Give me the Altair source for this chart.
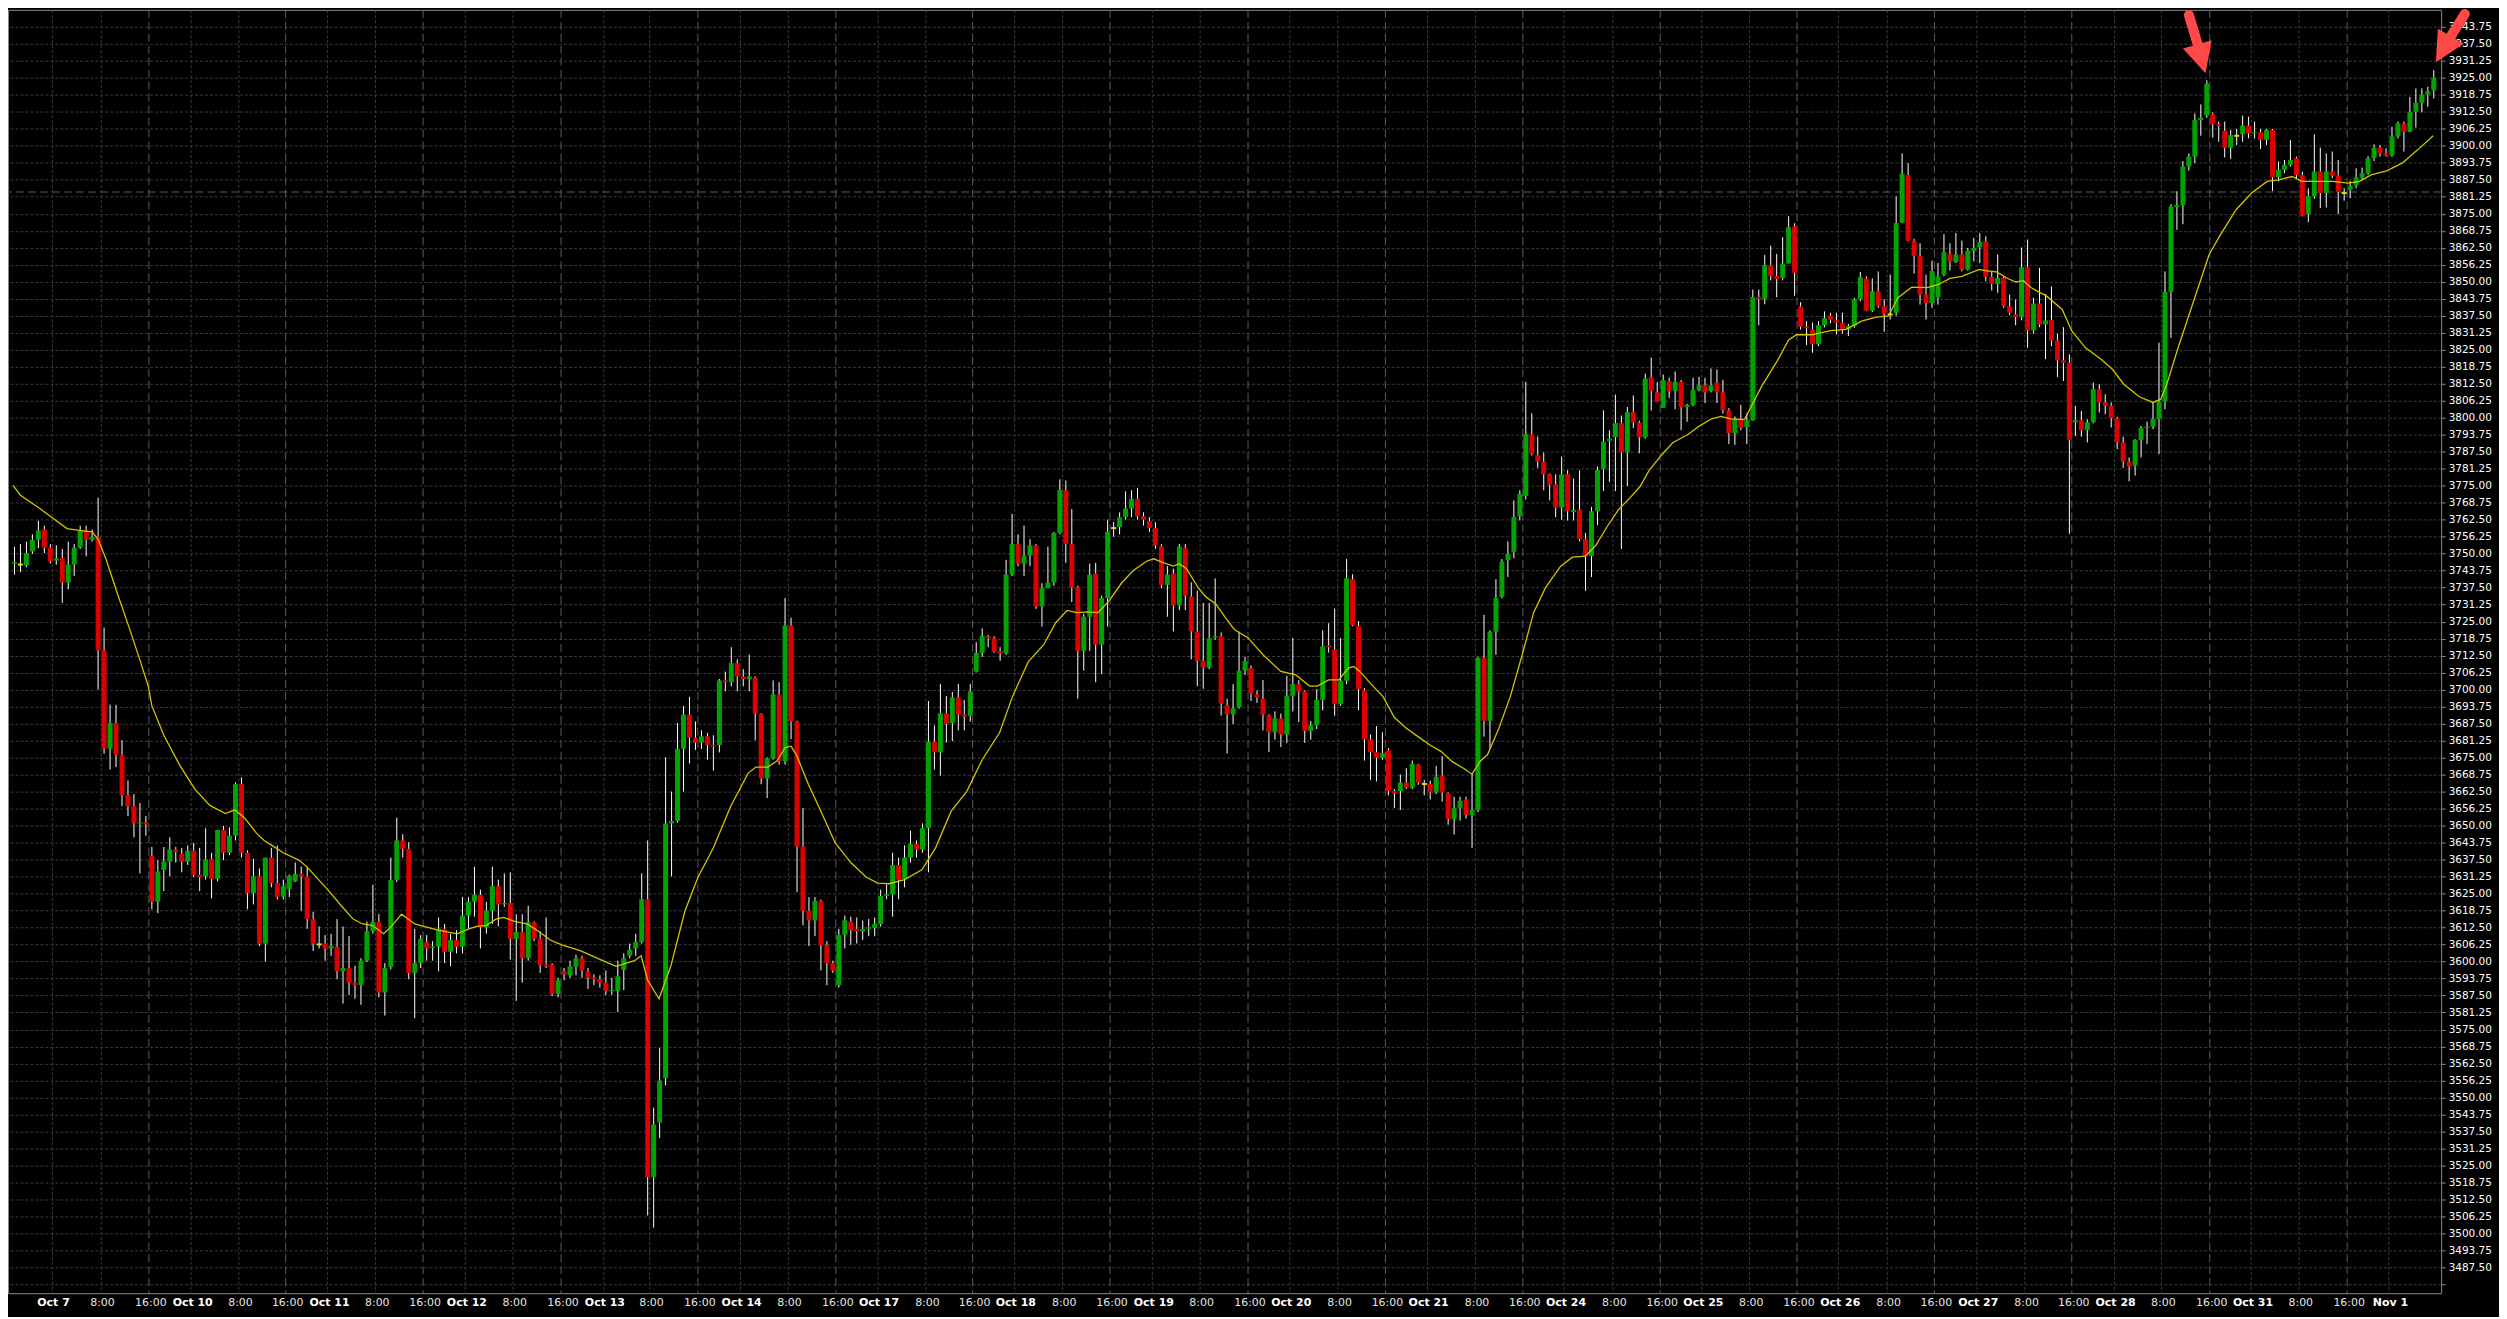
import altair as alt
import pandas as pd
import numpy as np

# ---------------- hourly candles (index 0 = first visible bar) ----------------
open_ = [
3746.3,3746.0,3745.7,3750.8,3755.1,3758.9,3752.2,3747.5,3748.4,3739.4,
3746.0,3752.2,3758.5,3755.1,3756.2,3714.4,3678.3,3687.7,3676.0,3661.1,
3657.1,3650.8,3651.2,3638.9,3622.0,3633.7,3636.7,3641.2,3639.6,3636.7,
3640.7,3631.9,3631.3,3637.6,3630.4,3648.4,3640.0,3646.3,3665.2,3640.0,
3625.2,3631.3,3606.6,3638.2,3628.8,3623.8,3626.6,3629.5,3632.2,3631.3,
3615.6,3606.3,3606.6,3604.8,3605.4,3596.4,3597.6,3592.2,3591.3,3600.3,
3611.1,3614.7,3588.6,3598.0,3630.0,3644.5,3641.4,3595.8,3599.4,3607.1,
3605.0,3605.4,3612.0,3603.6,3607.9,3605.4,3616.9,3622.0,3624.5,3612.6,
3618.7,3627.7,3621.0,3621.5,3608.4,3610.8,3601.2,3614.4,3608.4,3598.9,
3598.9,3588.1,3596.4,3594.9,3598.2,3601.2,3596.4,3594.0,3593.5,3592.2,
3589.1,3589.2,3596.9,3602.1,3604.8,3607.2,3622.9,3520.7,3540.8,3557.1,
3650.8,3651.7,3678.2,3690.8,3682.3,3680.5,3682.8,3679.6,3679.6,3703.4,
3702.7,3709.7,3704.8,3703.9,3704.3,3691.0,3667.3,3674.7,3698.2,3673.7,
3723.6,3688.3,3642.3,3618.7,3615.1,3622.3,3606.1,3599.4,3591.3,3609.7,
3614.7,3612.0,3611.1,3612.0,3612.3,3613.8,3624.1,3624.7,3635.5,3630.4,
3638.2,3643.2,3641.2,3649.0,3680.9,3676.9,3691.3,3687.7,3697.1,3690.8,
3690.4,3706.6,3713.5,3719.6,3718.9,3714.2,3713.3,3742.3,3753.5,3746.3,
3749.3,3753.0,3730.6,3737.3,3739.4,3757.6,3773.3,3753.5,3737.6,3714.2,
3726.8,3742.7,3716.5,3733.7,3759.4,3759.8,3763.4,3766.6,3770.1,3763.7,
3762.0,3759.4,3752.6,3738.5,3742.7,3731.0,3752.2,3734.2,3721.4,3710.6,
3708.1,3719.1,3719.6,3694.3,3690.9,3693.5,3707.0,3707.9,3698.2,3696.6,
3690.5,3684.3,3689.4,3683.5,3697.7,3702.0,3699.3,3684.8,3686.9,3696.2,
3716.2,3714.7,3694.6,3703.3,3740.6,3723.3,3699.7,3681.7,3677.0,3675.0,
3677.7,3662.7,3662.7,3665.8,3663.9,3672.4,3665.3,3665.3,3662.2,3668.4,
3661.9,3652.4,3656.5,3659.6,3653.9,3655.7,3711.6,3688.5,3721.3,3734.1,
3747.6,3750.7,3763.8,3771.2,3793.9,3786.2,3783.8,3779.2,3775.4,3766.9,
3779.2,3765.3,3766.1,3755.3,3749.1,3765.6,3781.1,3791.5,3792.8,3798.0,
3787.2,3802.0,3798.2,3792.8,3815.0,3809.3,3803.6,3813.5,3809.8,3813.2,
3803.9,3804.7,3810.1,3811.9,3809.8,3812.9,3809.3,3802.7,3794.3,3799.6,
3796.5,3799.0,3844.4,3843.7,3856.1,3852.1,3851.4,3856.7,3870.3,3840.9,
3833.5,3832.5,3827.0,3834.0,3837.5,3835.8,3834.9,3832.5,3833.7,3843.5,
3851.2,3839.4,3846.5,3841.0,3838.0,3838.6,3871.8,3889.3,3865.1,3859.4,
3845.3,3842.2,3844.3,3852.6,3860.3,3857.3,3860.0,3854.5,3861.4,3862.7,
3864.9,3851.8,3849.2,3851.4,3841.0,3838.0,3837.0,3855.3,3832.1,3842.0,
3834.3,3835.8,3828.4,3821.1,3820.2,3798.3,3799.1,3795.4,3798.3,3810.5,
3805.6,3804.4,3799.8,3790.9,3783.9,3782.4,3791.8,3796.2,3796.7,3799.5,
3805.9,3846.3,3877.5,3878.1,3892.4,3896.0,3909.5,3911.1,3911.6,3907.9,
3905.5,3899.3,3903.7,3904.2,3907.4,3904.6,3905.0,3902.2,3905.8,3888.3,
3891.2,3893.0,3895.4,3889.3,3874.9,3881.4,3890.5,3882.6,3890.5,3889.1,
3882.6,3883.8,3885.4,3888.3,3889.9,3895.4,3899.3,3897.2,3896.4,3903.4,
3908.2,3905.2,3912.5,3915.8,3918.9,3920.3]

high = [
3752.6,3753.5,3754.4,3757.1,3762.1,3760.3,3753.5,3753.1,3751.7,3754.4,
3753.5,3760.3,3760.3,3758.9,3770.6,3722.8,3694.4,3694.4,3681.4,3666.6,
3661.6,3658.3,3653.5,3642.1,3637.3,3642.1,3645.7,3642.1,3641.8,3642.7,
3643.6,3641.8,3649.0,3640.0,3648.4,3649.9,3649.3,3665.9,3667.7,3640.9,
3637.8,3634.2,3638.2,3641.8,3642.7,3630.1,3632.0,3636.4,3634.9,3634.9,
3618.3,3612.9,3609.7,3610.2,3615.6,3612.9,3609.3,3598.5,3601.2,3614.7,
3628.3,3617.4,3599.4,3638.2,3652.9,3646.8,3643.9,3612.0,3609.7,3609.7,
3607.5,3616.2,3613.8,3610.2,3611.5,3623.7,3623.7,3634.9,3626.4,3621.9,
3634.9,3630.1,3632.4,3632.8,3617.4,3617.4,3620.5,3614.7,3611.1,3616.2,
3599.4,3594.0,3597.6,3600.3,3602.5,3602.1,3597.6,3595.3,3594.9,3596.7,
3594.0,3600.3,3603.0,3606.6,3610.2,3632.4,3644.5,3546.3,3568.2,3675.1,
3662.5,3687.7,3694.0,3697.3,3688.3,3685.0,3684.1,3683.2,3703.9,3706.6,
3715.6,3711.1,3707.5,3712.9,3704.8,3691.3,3675.1,3703.4,3702.7,3733.7,
3726.4,3688.6,3656.5,3623.7,3623.7,3622.8,3607.5,3600.3,3612.0,3616.9,
3616.5,3616.2,3615.1,3615.6,3616.2,3626.4,3628.3,3640.0,3638.2,3642.7,
3648.1,3644.5,3650.8,3695.8,3686.8,3702.1,3697.6,3699.1,3702.1,3696.2,
3702.1,3717.4,3722.5,3720.1,3719.6,3715.6,3747.7,3764.6,3757.1,3760.3,
3755.3,3753.5,3739.1,3752.6,3758.0,3777.3,3776.9,3766.4,3738.2,3727.9,
3746.3,3746.6,3734.6,3762.5,3761.6,3765.2,3772.9,3773.3,3774.2,3765.2,
3763.4,3761.6,3753.5,3745.4,3744.5,3753.5,3753.5,3739.4,3736.4,3731.9,
3731.9,3740.9,3721.0,3696.6,3702.0,3721.3,3712.0,3708.9,3699.7,3703.5,
3690.9,3692.0,3691.2,3705.1,3719.0,3703.5,3699.7,3688.4,3700.2,3721.8,
3724.4,3729.8,3719.0,3748.0,3742.4,3725.2,3700.5,3683.5,3686.6,3684.3,
3678.5,3663.4,3668.8,3671.1,3673.9,3672.7,3666.8,3666.5,3671.9,3675.5,
3662.2,3660.6,3660.6,3660.6,3669.3,3712.0,3727.5,3721.8,3740.6,3748.0,
3754.5,3769.6,3773.3,3813.2,3801.6,3793.1,3787.2,3779.5,3779.2,3785.7,
3780.7,3777.6,3780.7,3757.6,3767.2,3782.0,3802.7,3795.4,3808.5,3800.8,
3803.9,3808.2,3798.9,3816.2,3822.1,3813.1,3815.9,3814.7,3817.0,3813.9,
3805.1,3814.7,3815.0,3814.7,3818.1,3817.8,3813.9,3803.5,3800.5,3804.7,
3801.6,3847.1,3847.1,3859.8,3863.3,3860.2,3866.4,3874.1,3871.5,3842.5,
3835.5,3835.0,3835.5,3839.1,3838.6,3838.6,3838.6,3834.5,3844.1,3853.6,
3852.0,3851.2,3853.8,3843.5,3852.6,3881.4,3897.2,3893.6,3865.8,3864.2,
3852.6,3857.8,3856.9,3867.5,3864.2,3867.9,3865.1,3862.4,3866.1,3867.9,
3866.7,3853.8,3860.0,3852.0,3845.3,3843.5,3862.6,3865.5,3844.1,3855.1,
3845.5,3848.3,3830.9,3833.3,3823.3,3804.3,3802.5,3799.4,3812.9,3812.3,
3808.6,3805.6,3800.3,3793.0,3785.4,3792.1,3797.0,3798.6,3805.6,3827.6,
3853.8,3878.5,3883.2,3894.4,3897.2,3911.9,3915.2,3924.1,3912.3,3908.9,
3908.9,3905.8,3906.2,3911.1,3910.7,3908.9,3906.2,3906.2,3906.2,3894.2,
3894.8,3902.1,3896.0,3890.5,3884.4,3904.2,3899.3,3897.2,3897.9,3894.8,
3884.4,3887.1,3891.7,3892.0,3896.2,3900.5,3900.3,3899.1,3907.0,3908.9,
3908.9,3918.0,3921.1,3921.1,3921.7,3927.8]

low = [
3742.3,3743.2,3745.0,3749.9,3752.0,3750.2,3746.3,3745.9,3731.9,3736.9,
3741.8,3751.7,3749.0,3754.4,3700.0,3676.4,3670.6,3671.5,3657.1,3653.5,
3645.7,3632.4,3646.3,3619.2,3617.8,3625.9,3631.3,3636.4,3632.8,3635.5,
3631.0,3625.9,3630.1,3623.2,3629.5,3637.3,3639.1,3644.5,3638.2,3619.2,
3621.0,3605.7,3600.0,3627.3,3622.8,3622.8,3623.7,3629.2,3618.7,3612.0,
3603.9,3604.8,3600.3,3602.1,3593.5,3584.5,3587.7,3586.3,3584.1,3599.8,
3610.2,3586.8,3580.1,3597.1,3629.2,3638.2,3593.5,3579.1,3597.6,3600.3,
3600.3,3596.4,3599.4,3598.2,3603.0,3603.0,3612.0,3616.5,3604.8,3610.2,
3613.8,3612.9,3620.1,3600.7,3585.5,3592.2,3600.3,3607.5,3595.8,3597.6,
3587.3,3586.8,3593.1,3594.0,3594.9,3594.0,3589.9,3591.3,3590.4,3587.7,
3587.7,3581.4,3589.5,3601.2,3602.1,3606.6,3506.6,3502.1,3535.1,3554.4,
3631.3,3651.1,3662.5,3672.8,3677.8,3678.2,3674.2,3670.2,3676.9,3699.4,
3701.2,3699.4,3701.2,3699.4,3681.4,3665.2,3660.1,3674.2,3672.4,3672.4,
3681.8,3625.5,3613.3,3605.7,3609.3,3596.7,3591.3,3595.8,3590.4,3604.8,
3606.1,3606.6,3607.9,3609.3,3609.3,3612.9,3622.9,3616.5,3622.9,3627.3,
3636.4,3638.2,3640.0,3632.8,3670.6,3668.4,3680.5,3681.0,3685.0,3685.0,
3688.2,3706.3,3712.0,3715.6,3713.5,3710.6,3712.8,3741.8,3745.4,3741.8,
3745.4,3729.7,3723.2,3737.3,3738.2,3757.1,3746.6,3732.2,3696.7,3707.0,
3714.2,3702.7,3705.7,3723.2,3756.2,3757.1,3762.5,3763.4,3762.5,3760.3,
3758.0,3751.7,3737.3,3726.8,3721.4,3729.2,3729.2,3711.1,3701.2,3700.3,
3707.5,3718.3,3690.4,3676.5,3687.3,3693.0,3705.4,3695.8,3695.1,3685.0,
3677.0,3681.6,3678.9,3680.4,3692.0,3688.1,3680.4,3681.6,3685.5,3692.4,
3713.6,3690.4,3694.0,3702.0,3723.3,3692.4,3673.9,3666.8,3666.2,3674.2,
3661.1,3656.5,3655.7,3663.4,3663.4,3665.0,3661.1,3659.6,3661.6,3658.8,
3650.3,3646.7,3651.8,3652.6,3641.8,3654.9,3682.7,3678.1,3712.8,3733.6,
3741.4,3748.3,3762.2,3769.9,3786.1,3781.5,3773.3,3769.6,3763.4,3762.5,
3762.2,3762.2,3754.5,3736.3,3741.4,3760.4,3773.0,3776.4,3773.0,3751.7,
3774.9,3796.2,3786.9,3792.3,3802.6,3805.7,3803.6,3807.3,3803.1,3795.4,
3798.5,3804.2,3809.7,3805.4,3809.3,3805.4,3801.5,3790.3,3790.0,3795.4,
3790.3,3798.9,3834.0,3841.7,3850.5,3844.3,3850.5,3856.7,3844.8,3832.4,
3826.7,3823.9,3826.3,3833.2,3834.7,3830.6,3830.9,3830.0,3833.1,3842.8,
3839.2,3838.9,3840.4,3831.6,3836.1,3837.5,3871.6,3864.9,3853.0,3841.6,
3836.1,3840.4,3841.6,3852.0,3854.1,3856.9,3853.8,3854.1,3857.5,3856.9,
3850.2,3846.8,3845.9,3840.4,3837.7,3834.0,3835.8,3825.7,3830.9,3833.3,
3821.5,3826.3,3815.0,3813.5,3757.3,3793.3,3793.0,3790.9,3797.9,3801.9,
3801.3,3796.4,3788.4,3781.5,3776.6,3778.7,3785.4,3790.3,3795.8,3786.6,
3803.1,3829.4,3869.1,3871.2,3890.8,3893.6,3903.7,3910.3,3903.0,3901.5,
3895.7,3895.2,3900.3,3901.5,3902.7,3902.7,3898.8,3900.3,3883.4,3886.9,
3889.9,3892.4,3888.1,3874.0,3871.9,3880.5,3877.1,3877.3,3888.1,3874.9,
3879.8,3880.7,3884.4,3887.5,3889.3,3894.4,3896.0,3896.0,3896.0,3902.7,
3897.9,3905.0,3906.7,3912.3,3914.4,3917.4]

close = [
3746.8,3746.0,3750.2,3755.1,3758.5,3752.2,3747.2,3748.3,3739.4,3746.0,
3752.2,3758.5,3755.1,3756.2,3714.4,3678.3,3687.7,3676.0,3661.1,3657.1,
3650.8,3651.2,3650.4,3622.0,3633.1,3636.7,3641.2,3640.3,3636.7,3640.7,
3631.9,3631.0,3637.6,3630.4,3648.4,3640.0,3646.3,3665.2,3640.0,3625.2,
3631.3,3606.6,3638.2,3628.8,3623.8,3627.7,3631.5,3632.2,3631.3,3615.6,
3606.6,3606.3,3604.8,3605.7,3596.4,3597.6,3592.2,3591.3,3600.3,3611.1,
3614.7,3588.6,3597.6,3630.0,3644.5,3641.4,3595.8,3599.4,3608.4,3604.8,
3605.5,3612.0,3603.6,3607.9,3605.4,3616.9,3622.0,3624.6,3612.6,3618.7,
3627.7,3621.0,3621.5,3608.4,3610.8,3601.2,3614.4,3608.4,3598.5,3598.2,
3588.1,3593.1,3595.3,3598.2,3601.2,3596.7,3594.0,3593.5,3592.2,3589.2,
3589.6,3594.6,3601.2,3604.3,3607.2,3622.9,3520.7,3540.0,3556.2,3650.8,
3651.7,3678.2,3690.8,3682.3,3680.5,3682.8,3679.6,3679.1,3703.4,3702.7,
3709.7,3704.8,3703.9,3704.8,3691.3,3667.3,3674.7,3698.2,3673.7,3723.6,
3688.3,3642.3,3618.7,3615.1,3622.3,3606.1,3599.4,3596.7,3609.7,3615.1,
3611.5,3611.1,3612.0,3612.6,3613.8,3624.1,3624.7,3635.5,3630.1,3638.2,
3643.2,3641.2,3649.0,3680.9,3676.9,3691.3,3687.4,3697.1,3690.8,3690.1,
3699.4,3713.5,3719.8,3718.9,3713.8,3713.3,3742.3,3753.5,3746.3,3749.3,
3753.0,3730.6,3737.3,3739.4,3757.6,3773.3,3753.5,3737.6,3714.2,3726.8,
3742.3,3716.5,3733.7,3758.0,3759.4,3763.4,3766.6,3770.1,3763.7,3762.5,
3759.4,3753.0,3738.5,3742.3,3731.0,3752.6,3734.6,3721.4,3710.6,3708.1,
3718.9,3719.6,3694.9,3690.9,3693.1,3707.0,3710.5,3698.6,3697.1,3690.9,
3684.3,3689.4,3683.5,3697.7,3702.0,3699.3,3684.8,3686.9,3696.2,3715.9,
3715.6,3694.6,3703.3,3740.9,3723.6,3700.2,3681.7,3677.0,3675.0,3676.6,
3662.7,3661.9,3665.8,3663.9,3672.7,3665.8,3665.3,3662.2,3667.8,3662.2,
3652.4,3656.5,3659.1,3653.9,3655.7,3711.6,3688.5,3721.3,3733.7,3747.1,
3749.9,3763.5,3772.0,3793.9,3786.6,3783.8,3779.2,3775.4,3766.9,3779.2,
3765.6,3766.1,3755.3,3749.1,3765.6,3780.8,3791.2,3792.3,3798.0,3787.2,
3802.0,3798.2,3792.8,3814.4,3809.8,3805.8,3813.9,3809.8,3813.2,3803.9,
3804.7,3810.1,3811.9,3809.3,3811.9,3809.3,3802.8,3794.3,3799.6,3796.2,
3799.0,3844.4,3843.7,3856.1,3852.1,3851.0,3856.7,3870.0,3853.3,3833.5,
3832.9,3827.0,3834.0,3836.6,3836.0,3834.9,3832.5,3833.7,3843.5,3851.7,
3839.4,3846.5,3841.0,3838.2,3838.0,3871.6,3889.7,3865.1,3859.4,3845.3,
3842.2,3853.9,3852.0,3860.8,3857.3,3860.0,3854.5,3861.4,3862.4,3864.6,
3851.8,3849.2,3851.4,3841.0,3838.6,3837.0,3855.3,3832.1,3842.0,3834.3,
3835.8,3828.4,3821.1,3820.2,3791.8,3799.1,3795.4,3798.3,3810.5,3805.6,
3804.4,3799.8,3790.9,3783.9,3782.0,3791.8,3796.2,3796.7,3799.5,3805.9,
3846.3,3877.7,3878.1,3892.4,3896.0,3909.5,3910.3,3922.8,3907.9,3907.4,
3899.3,3904.0,3903.7,3907.4,3904.6,3905.0,3902.2,3905.8,3888.3,3891.2,
3893.0,3894.8,3889.3,3874.4,3881.4,3890.5,3882.6,3890.5,3889.1,3883.0,
3882.6,3885.4,3888.3,3889.9,3895.4,3899.3,3897.2,3896.4,3903.4,3908.2,
3905.2,3912.5,3915.8,3918.9,3920.1,3925.0]

# ---------------- moving-average line ----------------
ma_idx = [-0.25,1.0,4.0,6.2,8.8,11.1,13.0,14.0,15.3,17.2,19.2,21.1,22.4,23.0,25.0,27.6,30.2,32.7,35.3,36.9,
          38.6,40.5,41.8,43.1,45.0,47.6,48.9,50.9,52.8,54.7,56.7,58.3,59.9,61.8,63.1,64.8,67.0,69.0,70.9,74.1,
          76.1,77.4,79.0,80.6,81.9,83.8,85.8,87.7,89.7,91.6,94.8,98.1,100.7,103.8,104.9,106.0,107.9,109.9,112.2,114.4,
          117.0,119.9,122.8,124.1,126.1,127.7,129.0,130.0,130.9,132.9,134.8,137.4,140.0,142.6,144.5,146.4,149.0,151.9,154.2,156.8,
          159.4,162.0,164.9,167.1,169.7,172.3,174.3,176.2,177.8,179.7,181.4,183.3,185.3,187.2,189.5,190.7,192.4,194.0,195.0,196.2,
          198.2,199.5,201.1,202.6,204.2,206.5,209.0,212.0,214.5,216.8,218.1,220.0,221.7,223.3,224.2,225.2,227.1,229.1,231.0,233.0,
          234.9,236.9,238.8,240.7,242.7,244.0,245.3,246.6,248.5,250.4,252.4,254.3,256.3,258.8,260.8,263.0,264.7,266.6,268.5,270.5,
          272.1,273.7,275.7,277.6,280.2,282.1,284.1,285.7,287.3,289.6,290.5,292.5,295.1,297.0,298.3,300.9,304.0,306.6,309.2,311.7,
          313.7,315.3,317.6,320.2,322.1,324.0,326.0,328.9,329.9,331.8,333.7,335.0,336.3,337.6,340.2,342.8,344.4,346.7,349.3,351.2,
          353.1,355.7,358.0,359.3,360.3,362.2,364.8,367.4,369.3,371.9,374.5,377.1,379.0,381.3,382.9,385.5,388.1,390.7,392.6,394.5,
          397.1,399.7,402.3,404.9]
ma_val = [3775.1,3771.5,3767.0,3763.4,3759.2,3758.5,3758.0,3755.3,3748.1,3735.5,3722.8,3710.2,3701.2,3694.0,3683.2,3672.4,3663.4,3657.4,3654.4,3655.8,
          3652.6,3647.2,3644.5,3642.7,3640.0,3637.3,3634.9,3630.1,3625.5,3620.5,3615.6,3613.8,3613.3,3610.2,3612.9,3617.4,3613.8,3612.6,3611.5,3610.2,
          3612.0,3612.9,3613.3,3615.6,3616.2,3614.7,3613.8,3611.1,3607.9,3606.1,3603.9,3600.7,3598.2,3600.3,3602.1,3593.1,3586.3,3598.5,3618.3,3630.9,
          3641.8,3657.1,3669.2,3671.5,3671.5,3673.8,3678.7,3679.2,3676.0,3665.2,3656.2,3643.6,3636.4,3631.0,3628.8,3628.6,3630.1,3633.7,3641.8,3655.3,
          3662.5,3674.2,3684.1,3697.6,3710.2,3716.5,3724.6,3729.1,3728.3,3728.6,3728.3,3732.8,3739.1,3743.6,3747.2,3748.1,3746.6,3745.4,3746.3,3744.5,
          3737.3,3734.0,3731.5,3726.8,3722.1,3719.0,3712.8,3706.7,3705.4,3701.3,3701.3,3703.6,3703.6,3707.9,3708.5,3706.7,3702.0,3697.4,3689.7,3685.8,
          3682.8,3679.7,3677.3,3673.5,3670.9,3668.9,3673.5,3676.1,3685.8,3697.4,3712.8,3728.3,3737.5,3745.3,3748.7,3749.1,3753.0,3759.9,3766.1,3770.7,
          3774.6,3780.8,3786.2,3790.8,3793.9,3797.0,3799.6,3800.5,3799.6,3799.3,3803.1,3811.6,3820.9,3828.6,3830.5,3830.5,3832.0,3832.5,3835.5,3837.0,
          3837.4,3844.1,3848.0,3847.8,3849.0,3851.2,3852.0,3854.5,3854.1,3853.6,3851.2,3849.9,3850.4,3847.8,3844.7,3839.8,3831.9,3825.7,3821.5,3817.8,
          3812.3,3807.7,3805.6,3806.8,3812.3,3825.7,3842.9,3860.0,3867.3,3876.5,3882.6,3886.9,3887.5,3888.7,3886.9,3886.9,3886.9,3886.3,3886.9,3889.3,
          3890.8,3893.6,3898.5,3903.7]

# ---------------- x-axis labels (bar-index positions) ----------------
label_idx = [6.2,14.4,22.5,29.5,37.5,45.4,52.4,60.4,68.4,75.4,83.4,91.5,98.5,106.3,114.4,121.4,129.4,137.5,
             144.4,152.5,160.4,167.3,175.4,183.4,190.4,198.4,206.5,213.4,221.5,229.5,236.4,244.5,252.5,
             259.4,267.5,275.5,282.4,290.4,298.4,305.3,313.4,321.4,328.4,336.5,344.4,351.4,359.4,367.5,
             374.4,382.4,390.5,397.4]
label_text = ["Oct 7","8:00","16:00","Oct 10","8:00","16:00","Oct 11","8:00","16:00","Oct 12","8:00","16:00",
              "Oct 13","8:00","16:00","Oct 14","8:00","16:00","Oct 17","8:00","16:00","Oct 18","8:00","16:00",
              "Oct 19","8:00","16:00","Oct 20","8:00","16:00","Oct 21","8:00","16:00","Oct 24","8:00","16:00",
              "Oct 25","8:00","16:00","Oct 26","8:00","16:00","Oct 27","8:00","16:00","Oct 28","8:00","16:00",
              "Oct 31","8:00","16:00","Nov 1"]

y_ticks = [round(3481.25 + 6.25 * i, 2) for i in range(75)]   # 3481.25 ... 3943.75
level_line = [3883.0]

# arrows (annotation): shaft tail -> head base, head centre + rotation
arrow_shaft_id = ["a1", "a1", "a2", "a2"]
arrow_shaft_ord = [0, 1, 0, 1]
arrow_shaft_i = [364.0, 365.5, 410.2, 407.8]
arrow_shaft_p = [3948.1, 3937.1, 3948.5, 3940.05]
arrow_head_i = [366.1, 406.6]
arrow_head_p = [3931.98, 3935.5]
arrow_head_ang = [344, 30]

# ---------------- frames ----------------
bars = pd.DataFrame({"i": np.arange(len(open_)), "open": open_, "high": high,
                     "low": low, "close": close})
bars["dir"] = np.where(bars["close"] > bars["open"], "up",
                       np.where(bars["close"] < bars["open"], "down", "flat"))
ma = pd.DataFrame({"i": ma_idx, "price": ma_val})
labels = pd.DataFrame({"i": label_idx, "text": label_text})
labels["kind"] = np.where(labels["text"].str.contains(":"), "time", "date")
grid_x = labels[labels["text"] != "16:00"]["i"].tolist()
sep = pd.DataFrame({"i": labels[labels["text"] == "16:00"]["i"].tolist()})
lvl = pd.DataFrame({"price": level_line})
shafts = pd.DataFrame({"arrow": arrow_shaft_id, "ord": arrow_shaft_ord,
                       "i": arrow_shaft_i, "price": arrow_shaft_p})
heads = pd.DataFrame({"i": arrow_head_i, "price": arrow_head_p, "ang": arrow_head_ang})

# ---------------- scales / axes ----------------
XS = alt.Scale(domain=[-0.25, 405.4], nice=False, zero=False)
YS = alt.Scale(domain=[3478, 3950], nice=False, zero=False)
XAX = alt.Axis(values=grid_x, grid=True, labels=False, ticks=False, domain=False, title=None,
               gridColor="#3b3b3b", gridDash=[3, 2], gridWidth=1)
YAX = alt.Axis(orient="right", values=y_ticks, grid=True, gridColor="#3b3b3b", gridDash=[3, 2],
               gridWidth=1, domain=False, ticks=True, tickSize=4, tickColor="#8c8c8c",
               labelColor="#ffffff", labelFont="DejaVu Sans", labelFontSize=10.5, labelPadding=3,
               labelOverlap=False, title=None,
               labelExpr="datum.value < 3485 ? '' : format(datum.value, '.2f')")


def X(f):
    return alt.X(f, type="quantitative", scale=XS, axis=XAX)


def Y(f):
    return alt.Y(f, type="quantitative", scale=YS, axis=YAX)


GREEN = "#00a300"
RED = "#dc0000"
YELLOW = "#e6dc00"

sep_rules = alt.Chart(sep).mark_rule(color="#5c5c5c", strokeDash=[8, 4], strokeWidth=1).encode(x=X("i"))
lvl_rule = alt.Chart(lvl).mark_rule(color="#5c5c5c", strokeDash=[8, 4], strokeWidth=1).encode(y=Y("price"))

wicks = alt.Chart(bars).mark_rule(color="#ffffff", strokeWidth=1, clip=True).encode(
    x=X("i"), y=Y("low"), y2=alt.Y2("high"))

bodies = alt.Chart(bars).transform_filter("datum.dir != 'flat'").mark_bar(width=5, clip=True).encode(
    x=X("i"), y=Y("open"), y2=alt.Y2("close"),
    color=alt.Color("dir:N", scale=alt.Scale(domain=["up", "down"], range=[GREEN, RED]), legend=None))

dojis = alt.Chart(bars).transform_filter("datum.dir == 'flat'").mark_point(
    shape="M-1,-0.4L1,-0.4L1,0.4L-1,0.4Z", filled=True, size=25, color=YELLOW, opacity=1,
    strokeWidth=0, clip=True).encode(x=X("i"), y=Y("open"))

ma_line = alt.Chart(ma).mark_line(color="#d2c400", strokeWidth=1.3, clip=True).encode(
    x=X("i"), y=Y("price"))

arrow_shafts = alt.Chart(shafts).mark_line(color="#ff4848", strokeWidth=10, strokeCap="round").encode(
    x=X("i"), y=Y("price"), detail="arrow:N", order="ord:Q")
arrow_heads = alt.Chart(heads).mark_point(
    shape="M0,1L-1,-1L1,-1Z", filled=True, size=900, color="#ff4848", opacity=1, strokeWidth=0).encode(
    x=X("i"), y=Y("price"), angle=alt.Angle("ang:Q", scale=None))

date_text = alt.Chart(labels).transform_filter("datum.kind == 'date'").mark_text(
    font="DejaVu Sans", fontSize=11, fontWeight="bold", color="#ffffff", baseline="middle",
    align="center", dx=2).encode(x=X("i"), y=alt.value(1297), text="text:N")
time_text = alt.Chart(labels).transform_filter("datum.kind == 'time'").mark_text(
    font="DejaVu Sans", fontSize=11, color="#e6e6e6", baseline="middle",
    align="center", dx=2).encode(x=X("i"), y=alt.value(1297), text="text:N")

chart = alt.layer(
    sep_rules, lvl_rule, wicks, bodies, dojis, ma_line, arrow_shafts, arrow_heads, date_text, time_text
).properties(
    width=2440, height=1287,
    autosize=alt.AutoSizeParams(type="none"),
    padding={"left": 0, "top": 0, "right": 58, "bottom": 22},
    background="#000000"
).configure_view(
    stroke="#8c8c8c", strokeWidth=1, fill="#000000"
)

chart.save("out.html", embed_options={"renderer": "svg", "actions": False})
